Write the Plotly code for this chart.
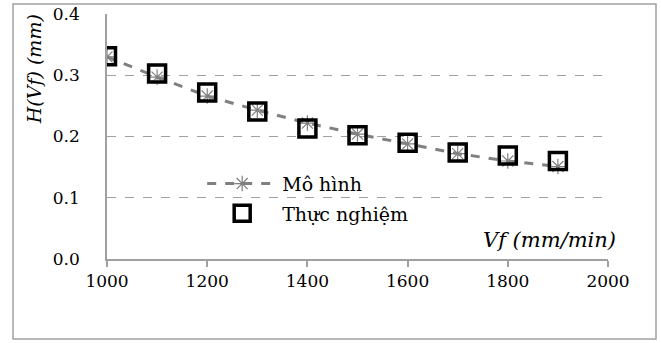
import plotly.graph_objects as go

vf = [1000, 1100, 1200, 1300, 1400, 1500, 1600, 1700, 1800, 1900]
mo_hinh = [0.330, 0.297, 0.266, 0.243, 0.222, 0.204, 0.188, 0.172, 0.160, 0.151]
thuc_nghiem = [0.331, 0.303, 0.272, 0.241, 0.213, 0.202, 0.190, 0.174, 0.169, 0.160]
y_ticks = [0.0, 0.1, 0.2, 0.3, 0.4]
x_ticks = [1000, 1200, 1400, 1600, 1800, 2000]

FONT = "DejaVu Serif"

fig = go.Figure()
fig.add_trace(go.Scatter(
    x=vf, y=mo_hinh, name="Mô hình", mode="lines+markers",
    line=dict(color="#808080", width=3, dash="dash"),
    marker=dict(symbol="asterisk-open", size=13, color="#808080",
                line=dict(color="#808080", width=1.2)),
    legendgroup="a",
))
fig.add_trace(go.Scatter(
    x=vf, y=thuc_nghiem, name="Thực nghiệm", mode="markers",
    marker=dict(symbol="square-open", size=17, color="black",
                line=dict(color="black", width=3.5)),
    legendgroup="b",
))

fig.update_layout(
    width=661, height=343,
    margin=dict(l=107, r=53, t=14, b=84, autoexpand=False),
    paper_bgcolor="white", plot_bgcolor="white",
    font=dict(family=FONT, color="black", size=17),
    showlegend=True,
    legend=dict(x=0.19, y=0.385, xanchor="left", yanchor="top",
                bgcolor="rgba(0,0,0,0)", font=dict(family=FONT, size=19),
                tracegroupgap=2, itemwidth=70),
    xaxis=dict(range=[1000, 2000], tickvals=x_ticks, showgrid=False,
               showline=True, linecolor="#a0a0a0", linewidth=1.5,
               ticks="outside", ticklen=6, tickcolor="#a0a0a0", tickwidth=1.5,
               tickfont=dict(family=FONT, size=17), zeroline=False,
               automargin=False),
    yaxis=dict(range=[0, 0.4], tickvals=y_ticks, tickformat=".1f",
               showgrid=True, gridcolor="#a0a0a0", griddash="dash", gridwidth=1,
               showline=True, linecolor="#a0a0a0", linewidth=1.5,
               ticks="", ticklabelstandoff=22,
               tickfont=dict(family=FONT, size=17), zeroline=False,
               automargin=False),
    annotations=[
        dict(text="<i>H(Vf) (mm)</i>", xref="paper", yref="paper",
             x=-0.145, y=0.776, xanchor="center", yanchor="middle",
             textangle=-90, showarrow=False, font=dict(family=FONT, size=19)),
        dict(text="<i>Vf (mm/min)</i>", xref="paper", yref="paper",
             x=1.02, y=0.02, xanchor="right", yanchor="bottom",
             showarrow=False, font=dict(family=FONT, size=21)),
    ],
    shapes=[
        dict(type="rect", xref="paper", yref="paper",
             x0=-0.1876, x1=1.0958, y0=-0.3265, y1=1.0408,
             line=dict(color="#a0a0a0", width=1.5), fillcolor="rgba(0,0,0,0)"),
    ],
)

fig.write_html("out.html", config={"displayModeBar": False},
               post_script="document.body.style.margin='0';")
